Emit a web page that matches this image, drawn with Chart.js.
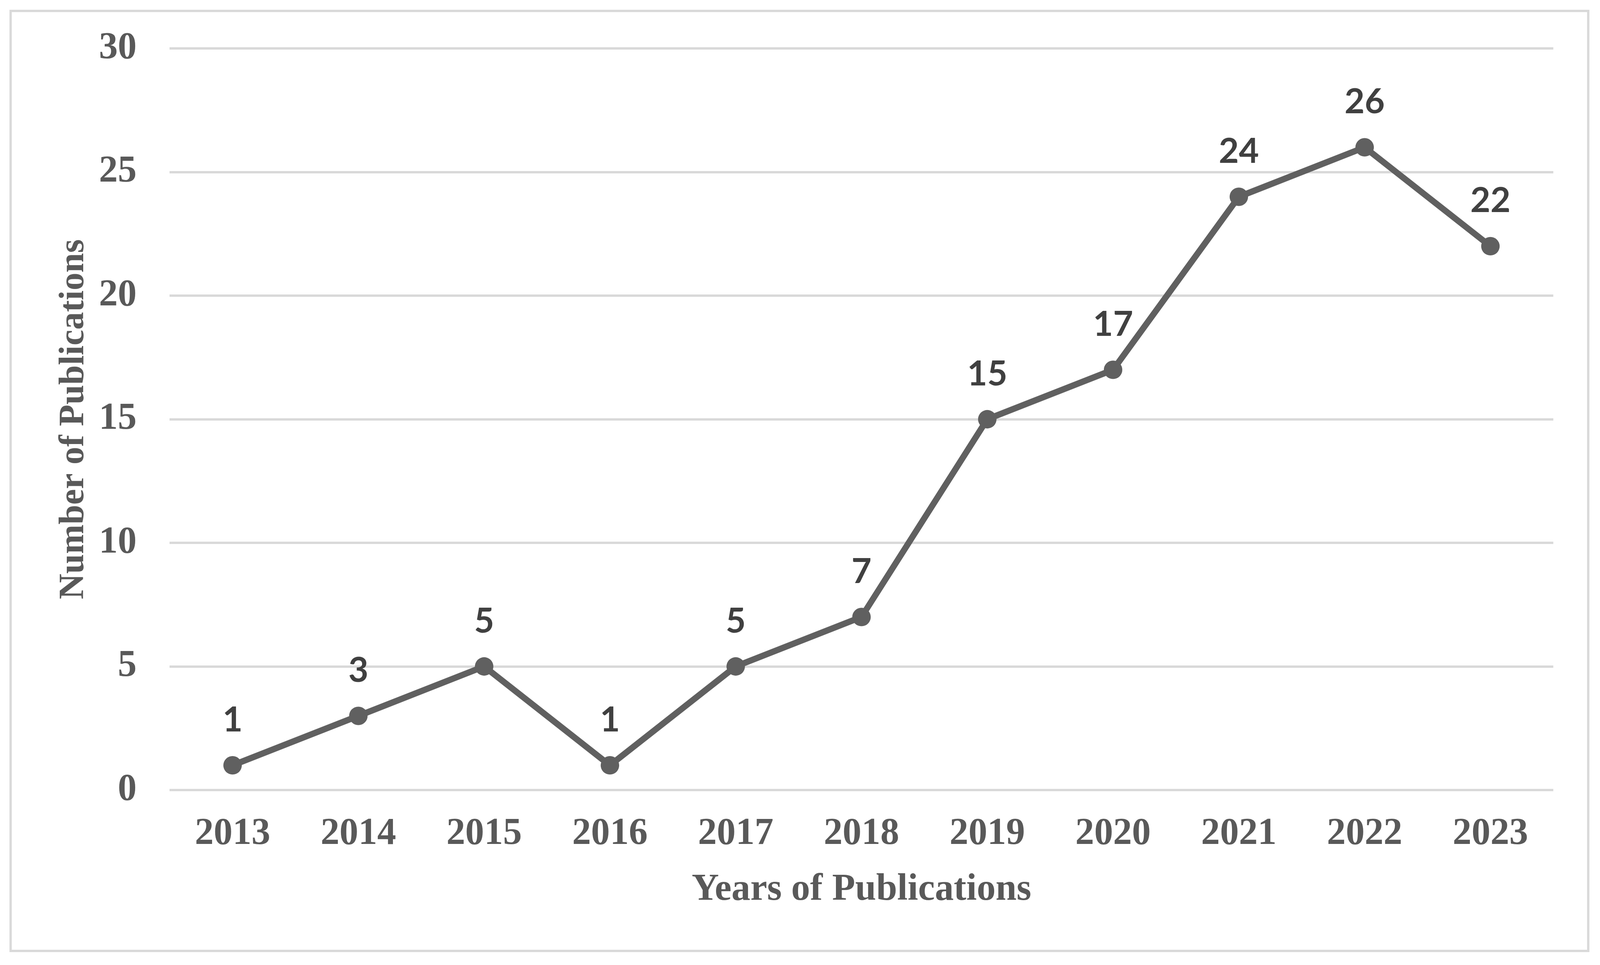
<!DOCTYPE html>
<html>
<head>
<meta charset="utf-8">
<script src="https://cdn.jsdelivr.net/npm/chart.js@4/dist/chart.umd.min.js"></script>
<style>
html,body{margin:0;padding:0;background:#ffffff;overflow:hidden;width:100%;height:100%;}
#wrap{position:absolute;left:0;top:0;width:100vw;height:100vh;}
canvas{display:block;}
</style>
</head>
<body>
<div id="wrap"><canvas id="c"></canvas></div>
<script>
// ---- data ----
const years = ['2013','2014','2015','2016','2017','2018','2019','2020','2021','2022','2023'];
const publications = [1, 3, 5, 1, 5, 7, 15, 17, 24, 26, 22];
const yTickValues = [0, 5, 10, 15, 20, 25, 30];
const xTitle = 'Years of Publications';
const yTitle = 'Number of Publications';

const serif = '"Liberation Serif", "Times New Roman", serif';

// design size of the reference; scale everything to the actual viewport
const W = window.innerWidth, H = window.innerHeight;
const kx = W / 4215, ky = H / 2471, k = (kx + ky) / 2;

const frame = {
  id: 'frame',
  afterDraw(chart) {
    const ctx = chart.ctx;
    ctx.save();
    ctx.strokeStyle = '#d9d9d9';
    ctx.lineWidth = 6 * k;
    ctx.strokeRect(28 * kx, 28 * ky, 4156 * kx, 2407 * ky);
    ctx.restore();
  }
};

const valueLabels = {
  id: 'valueLabels',
  afterDatasetsDraw(chart) {
    const ctx = chart.ctx;
    const meta = chart.getDatasetMeta(0);
    const data = chart.data.datasets[0].data;
    ctx.save();
    ctx.font = 'bold ' + (90 * k) + 'px Lato, "Open Sans", sans-serif';
    ctx.fillStyle = '#404040';
    ctx.textAlign = 'center';
    ctx.textBaseline = 'alphabetic';
    meta.data.forEach((pt, i) => {
      ctx.fillText(String(data[i]), pt.x, pt.y - 87 * ky);
    });
    ctx.restore();
  }
};

new Chart(document.getElementById('c'), {
  type: 'line',
  data: {
    labels: years,
    datasets: [{
      data: publications,
      borderColor: '#606060',
      backgroundColor: '#606060',
      borderWidth: 16 * k,
      pointRadius: 24 * k,
      pointHoverRadius: 24 * k,
      pointBorderWidth: 0,
      pointBackgroundColor: '#606060',
      tension: 0,
      fill: false
    }]
  },
  options: {
    responsive: true,
    maintainAspectRatio: false,
    animation: false,
    events: [],
    layout: { padding: { left: 0, top: 124 * ky, right: 123 * kx, bottom: 134 * ky } },
    plugins: {
      legend: { display: false },
      tooltip: { enabled: false },
      title: { display: false }
    },
    scales: {
      x: {
        offset: true,
        grid: { display: false, drawTicks: false },
        border: { display: false },
        ticks: {
          color: '#595959',
          font: { family: serif, size: 98 * k, weight: 'bold' },
          padding: 55 * ky,
          maxRotation: 0,
          autoSkip: false
        },
        title: {
          display: true,
          text: xTitle,
          color: '#595959',
          font: { family: serif, size: 98 * k, weight: 'bold' },
          padding: { top: 0, bottom: 0 }
        },
        afterFit(scale) {
          scale.height = 314 * ky;
          scale.paddingLeft = 0;
          scale.paddingRight = 0;
        }
      },
      y: {
        min: 0,
        max: 30,
        grid: { color: '#d9d9d9', lineWidth: 6 * k, drawTicks: false },
        border: { display: false },
        afterBuildTicks(scale) { scale.ticks = yTickValues.map(v => ({ value: v })); },
        ticks: {
          color: '#595959',
          font: { family: serif, size: 98 * k, weight: 'bold' },
          padding: 87 * kx
        },
        title: {
          display: true,
          text: yTitle,
          color: '#595959',
          font: { family: serif, size: 92 * k, weight: 'bold' },
          padding: { top: 139 * kx, bottom: 0 }
        },
        afterFit(scale) {
          scale.width = 447 * kx;
          scale.paddingTop = 0;
          scale.paddingBottom = 0;
        }
      }
    }
  },
  plugins: [frame, valueLabels]
});
</script>
</body>
</html>
